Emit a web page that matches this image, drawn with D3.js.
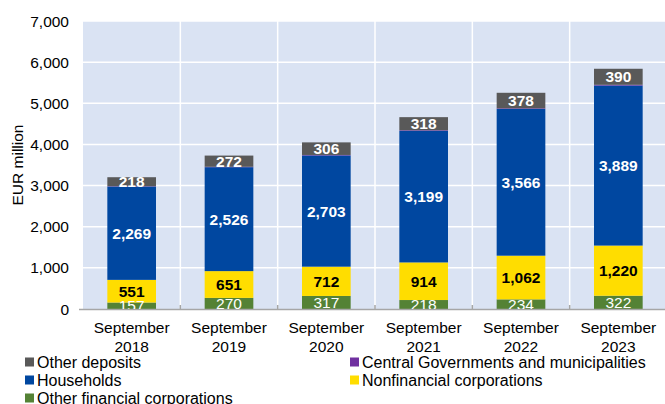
<!DOCTYPE html>
<html><head><meta charset="utf-8">
<script src="https://cdn.jsdelivr.net/npm/d3@7"></script>
<style>body{margin:0;background:#fff}svg{display:block;font-family:"Liberation Sans",Arial,sans-serif}</style>
</head><body><svg id="c" width="665" height="404"></svg>
<script>
const categories = [["September","2018"],["September","2019"],["September","2020"],["September","2021"],["September","2022"],["September","2023"]];
const otherFinancial = [157, 270, 317, 218, 234, 322];
const nonfinancial = [551, 651, 712, 914, 1062, 1220];
const households = [2269, 2526, 2703, 3199, 3566, 3889];
const centralGov = [8, 10, 12, 14, 15, 18];
const otherDeposits = [218, 272, 306, 318, 378, 390];
const yTicks = [0, 1000, 2000, 3000, 4000, 5000, 6000, 7000];

const series = [
  {name:"Other financial corporations", values: otherFinancial, color:"#548235", label:"#fff", weight:"normal"},
  {name:"Nonfinancial corporations", values: nonfinancial, color:"#ffdd00", label:"#000", weight:"bold"},
  {name:"Households", values: households, color:"#0047a0", label:"#fff", weight:"bold"},
  {name:"Central Governments and municipalities", values: centralGov, color:"#7030a0", label:null},
  {name:"Other deposits", values: otherDeposits, color:"#595959", label:"#fff", weight:"bold"}
];

const svg = d3.select("#c");
const L = 83, R = 667, T = 21, B = 309;
const x = d3.scaleBand().domain(d3.range(categories.length)).range([L, R]).paddingInner(0.5).paddingOuter(0.25);
const y = d3.scaleLinear().domain([0, 7000]).range([B, T]);

svg.append("defs").append("clipPath").attr("id","pc").append("rect").attr("x",L).attr("y",T).attr("width",R-L).attr("height",B-T);

svg.append("rect").attr("x",L).attr("y",T).attr("width",R-L).attr("height",B-T).attr("fill","#dae3f3");
svg.append("g").selectAll("line").data(yTicks.slice(1)).join("line")
  .attr("x1",L).attr("x2",R).attr("y1",d=>y(d)).attr("y2",d=>y(d)).attr("stroke","#fff").attr("stroke-width",1.5);
const step = x.step();
const bounds = d3.range(1, categories.length).map(i => x(i) - (step - x.bandwidth())/2);
svg.append("g").selectAll("line").data(bounds).join("line")
  .attr("x1",d=>d).attr("x2",d=>d).attr("y1",T).attr("y2",B).attr("stroke","#fff").attr("stroke-width",1.5);

const rows = categories.map((c,i)=>{const o={i}; series.forEach((s,k)=>o[k]=s.values[i]); return o;});
const stack = d3.stack().keys(series.map((s,k)=>k))(rows);

const g = svg.append("g");
stack.forEach((layer,k)=>{
  g.append("g").selectAll("rect").data(layer).join("rect")
    .attr("x",(d,i)=>x(i)).attr("width",x.bandwidth())
    .attr("y",d=>y(d[1])).attr("height",d=>y(d[0])-y(d[1]))
    .attr("fill",series[k].color);
});
svg.append("line").attr("x1",L).attr("x2",R).attr("y1",B+0.5).attr("y2",B+0.5).attr("stroke","#a6a6a6").attr("stroke-width",1.5);
svg.append("g").selectAll("line").data(bounds).join("line")
  .attr("x1",d=>d).attr("x2",d=>d).attr("y1",B-4).attr("y2",B).attr("stroke","#a6a6a6").attr("stroke-width",1.5);
svg.append("line").attr("x1",L-4).attr("x2",L).attr("y1",B+0.5).attr("y2",B+0.5).attr("stroke","#a6a6a6").attr("stroke-width",1.5);

const lg = svg.append("g").attr("clip-path","url(#pc)");
stack.forEach((layer,k)=>{
  const s = series[k]; if(!s.label) return;
  lg.append("g").selectAll("text").data(layer).join("text")
    .attr("x",(d,i)=>x(i)+x.bandwidth()/2)
    .attr("y",d=>(y(d[0])+y(d[1]))/2)
    .attr("dy","0.36em").attr("text-anchor","middle")
    .attr("font-size","15.5px").attr("font-weight",s.weight).attr("fill",s.label)
    .text((d,i)=>d3.format(",")(s.values[i]));
});

svg.append("g").selectAll("text").data(yTicks).join("text")
  .attr("x",69).attr("y",d=>y(d)).attr("dy","0.36em").attr("text-anchor","end")
  .attr("font-size","15.5px").attr("fill","#000").text(d=>d3.format(",")(d));
svg.append("text").attr("transform","translate(23,165) rotate(-90)").attr("text-anchor","middle")
  .attr("font-size","15.5px").attr("fill","#000").text("EUR million");

const xl = svg.append("g").selectAll("text").data(categories).join("text")
  .attr("text-anchor","middle").attr("font-size","15.5px").attr("fill","#000");
xl.append("tspan").attr("x",(d,i)=>x(i)+x.bandwidth()/2).attr("y",333).text(d=>d[0]);
xl.append("tspan").attr("x",(d,i)=>x(i)+x.bandwidth()/2).attr("y",352).text(d=>d[1]);

const legendItems = [
  {s:series[4], x:25, y:362},
  {s:series[3], x:350, y:362},
  {s:series[2], x:25, y:380},
  {s:series[1], x:350, y:380},
  {s:series[0], x:25, y:398}
];
const leg = svg.append("g").selectAll("g").data(legendItems).join("g");
leg.append("rect").attr("x",d=>d.x).attr("y",d=>d.y-4.5).attr("width",9).attr("height",9).attr("fill",d=>d.s.color);
leg.append("text").attr("x",d=>d.x+12).attr("y",d=>d.y).attr("dy","0.36em")
  .attr("font-size","16px").attr("fill","#000").text(d=>d.s.name);
</script></body></html>
